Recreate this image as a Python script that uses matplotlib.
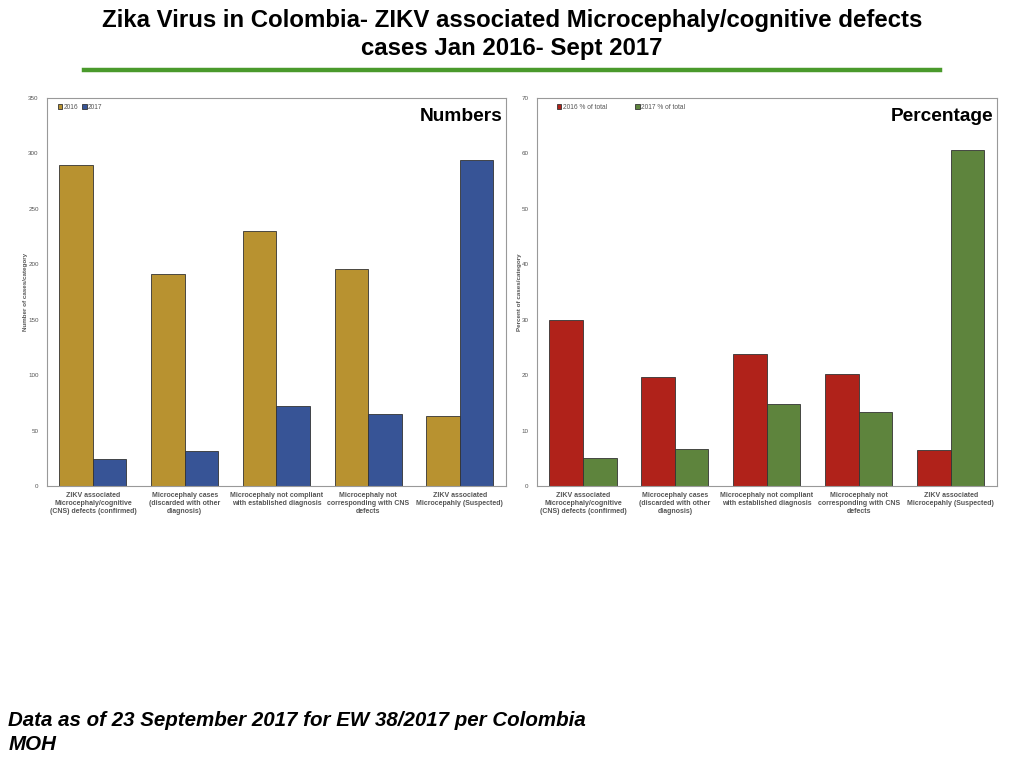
import numpy as np
import matplotlib.pyplot as plt
from matplotlib.lines import Line2D

# Data
categories = ['ZIKV associated\nMicrocephaly/cognitive\n(CNS) defects (confirmed)',
              'Microcephaly cases\n(discarded with other\ndiagnosis)',
              'Microcephaly not compliant\nwith established diagnosis',
              'Microcephaly not\ncorresponding with CNS\ndefects',
              'ZIKV associated\nMicrocepahly (Suspected)']
cases_2016 = [290, 191, 230, 196, 63]
cases_2017 = [24, 32, 72, 65, 294]
pct_2016 = [29.9, 19.7, 23.8, 20.2, 6.5]
pct_2017 = [5.0, 6.7, 14.8, 13.3, 60.6]

plt.rcParams['font.family'] = ['Liberation Sans', 'DejaVu Sans']

fig = plt.figure(figsize=(10.24, 7.68), dpi=100)

x = np.arange(len(categories))
w = 0.365
tick_grey = '#555555'

def draw_panel(ax, a, b, c1, c2, lab1, lab2, ymax, step, ylabel, tag, colsp, leg_x):
    ax.bar(x - w/2, a, w, color=c1, edgecolor='#333333', linewidth=0.6, label=lab1)
    ax.bar(x + w/2, b, w, color=c2, edgecolor='#333333', linewidth=0.6, label=lab2)
    ax.set_xlim(-0.5, len(categories) - 0.5)
    ax.set_ylim(0, ymax)
    ax.set_yticks(np.arange(0, ymax + 1, step))
    ax.set_xticks(x)
    ax.set_xticklabels(categories, fontsize=5, color=tick_grey, fontweight='bold')
    ax.tick_params(axis='y', labelsize=4.5, labelcolor=tick_grey, length=0, pad=6)
    ax.tick_params(axis='x', length=0, pad=4)
    for s in ax.spines.values():
        s.set_color('#999999')
        s.set_linewidth(0.8)
    ax.set_ylabel(ylabel, fontsize=4.5, color=tick_grey, fontweight='bold', labelpad=0)
    ax.text(0.993, 0.975, tag, transform=ax.transAxes, ha='right', va='top',
            fontsize=13.8, fontweight='bold')
    ax.legend(loc='upper left', bbox_to_anchor=(leg_x, 1.0), fontsize=4.8, frameon=False,
              ncol=2, handlelength=0.7, handleheight=0.7, handletextpad=0.2,
              columnspacing=colsp, labelcolor=tick_grey)

ax1 = fig.add_axes([0.0459, 0.3672, 0.448, 0.5052])
draw_panel(ax1, cases_2016, cases_2017, '#B89230', '#375496', '2016', '2017',
           350, 50, 'Number of cases/category', 'Numbers', 0.6, 0.01)

ax2 = fig.add_axes([0.5244, 0.3672, 0.449, 0.5052])
draw_panel(ax2, pct_2016, pct_2017, '#B0221A', '#5E843D', '2016 % of total', '2017 % of total',
           70, 10, 'Percent of cases/category', 'Percentage', 4.2, 0.03)

# Title and decorations
fig.text(0.5, 0.973, 'Zika Virus in Colombia- ZIKV associated Microcephaly/cognitive defects',
         ha='center', va='center', fontsize=17.3, fontweight='bold')
fig.text(0.5, 0.937, 'cases Jan 2016- Sept 2017',
         ha='center', va='center', fontsize=17.3, fontweight='bold')
fig.add_artist(Line2D([0.082, 0.918], [0.909, 0.909], color='#4A9A2C', linewidth=3.2,
                      transform=fig.transFigure))

fig.text(0.008, 0.046, 'Data as of 23 September 2017 for EW 38/2017 per Colombia\nMOH',
         ha='left', va='center', fontsize=14.8, fontweight='bold', style='italic',
         linespacing=1.3)

fig.savefig('out.png', dpi=100)
